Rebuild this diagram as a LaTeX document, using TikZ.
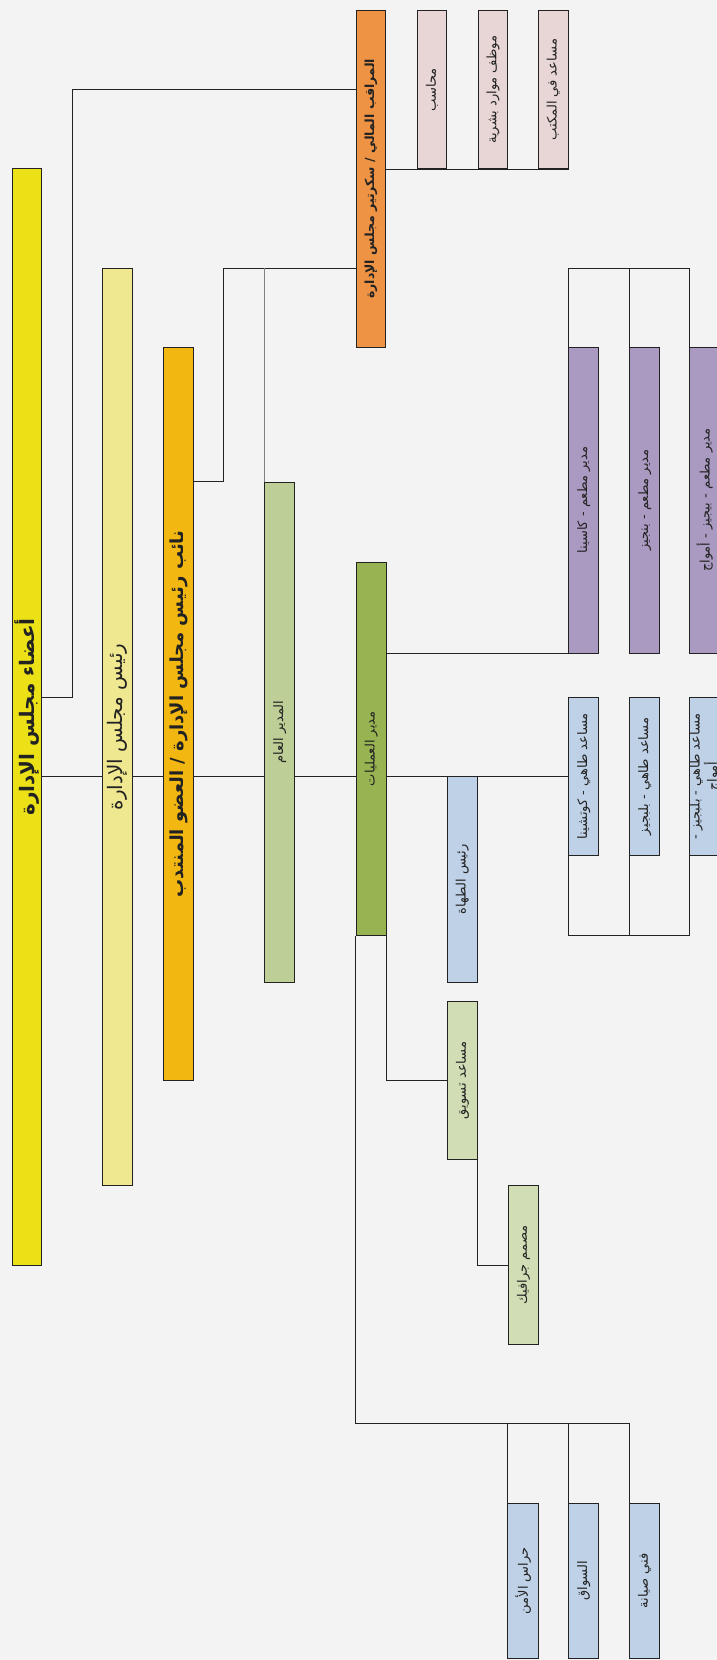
\documentclass[tikz,border=0pt]{standalone}
\usepackage{fontspec}
\newfontfamily\arabicfont[Script=Arabic]{DejaVu Sans}
\TeXXeTstate=1
\usetikzlibrary{backgrounds}
\definecolor{bgc}{HTML}{F2F3F2}
\definecolor{ink}{HTML}{222222}
\definecolor{cyel}{HTML}{ECE017}
\definecolor{clyel}{HTML}{F0E891}
\definecolor{cgold}{HTML}{F2B711}
\definecolor{cgm}{HTML}{BDCF96}
\definecolor{cops}{HTML}{98B351}
\definecolor{corange}{HTML}{EE9344}
\definecolor{cpink}{HTML}{E8D5D5}
\definecolor{cpurple}{HTML}{AA99C0}
\definecolor{cblue}{HTML}{BFD1E6}
\definecolor{cpale}{HTML}{D0DDB5}
\newcommand{\artxt}[2]{\rotatebox{90}{\fontsize{#1}{#1}\selectfont\arabicfont #2}}
\newcommand{\artxtb}[2]{\rotatebox{90}{\fontsize{#1}{#1}\selectfont\arabicfont\bfseries #2}}
\tikzset{
  orgbox/.style={draw=ink, line width=0.9pt, inner sep=0pt, anchor=north west, text=ink},
  conn/.style={draw=ink, line width=0.9pt},
  greyconn/.style={draw=gray, line width=0.8pt}
}
\begin{document}
\begin{tikzpicture}[x=1pt,y=-1pt]
\useasboundingbox (0,0) rectangle (717,1660);
\begin{scope}[on background layer]
\fill[bgc] (0,0) rectangle (717,1660);
\end{scope}
\clip (0,0) rectangle (717,1660);

% level boxes
\node[orgbox, fill=cyel, minimum width=29.3pt, minimum height=1097pt] (b1) at (12,168) {\artxtb{20}{\beginR أعضاء مجلس الإدارة\endR}};
\node[orgbox, fill=clyel, minimum width=30pt, minimum height=917.3pt] (b2) at (102.3,267.7) {\artxt{20}{\beginR رئيس مجلس الإدارة\endR}};
\node[orgbox, fill=cgold, minimum width=30pt, minimum height=733.3pt] (b3) at (163.3,346.7) {\artxtb{18}{\beginR نائب رئيس مجلس الإدارة / العضو المنتدب\endR}};
\node[orgbox, fill=cgm, minimum width=30pt, minimum height=500pt] (gm) at (264.3,481.7) {\artxt{13}{\beginR المدير العام\endR}};
\node[orgbox, fill=cops, minimum width=30pt, minimum height=373.3pt] (ops) at (355.7,561.7) {\artxt{13}{\beginR مدير العمليات\endR}};
\node[orgbox, fill=corange, minimum width=29.7pt, minimum height=336.7pt] (or) at (355.7,10) {\artxtb{12.5}{\beginR المراقب المالي / سكرتير مجلس الإدارة\endR}};

% pink
\node[orgbox, fill=cpink, minimum width=29.7pt, minimum height=158.3pt] (p1) at (416.7,10) {\artxt{13}{\beginR محاسب\endR}};
\node[orgbox, fill=cpink, minimum width=29.7pt, minimum height=158.3pt] (p2) at (477.7,10) {\artxt{13}{\beginR موظف موارد بشرية\endR}};
\node[orgbox, fill=cpink, minimum width=30.3pt, minimum height=158.3pt] (p3) at (537.7,10) {\artxt{13}{\beginR مساعد في المكتب\endR}};

% purple
\node[orgbox, fill=cpurple, minimum width=30pt, minimum height=306pt] (pu1) at (568.3,346.7) {\artxt{13}{\beginR مدير مطعم - كاسينا\endR}};
\node[orgbox, fill=cpurple, minimum width=30pt, minimum height=306pt] (pu2) at (629.3,346.7) {\artxt{13}{\beginR مدير مطعم - بنجيز\endR}};
\node[orgbox, fill=cpurple, minimum width=30pt, minimum height=306pt] (pu3) at (689.3,346.7) {\artxt{13}{\beginR مدير مطعم - بيجيز - أمواج\endR}};

% chef assistants
\node[orgbox, fill=cblue, minimum width=30pt, minimum height=158.3pt] (ca1) at (568.3,696.7) {\artxt{13}{\beginR مساعد طاهي - كوتشينا\endR}};
\node[orgbox, fill=cblue, minimum width=30pt, minimum height=158.3pt] (ca2) at (629.3,696.7) {\artxt{13}{\beginR مساعد طاهي - بلبجيز\endR}};
\node[orgbox, fill=cblue, minimum width=30pt, minimum height=158.3pt] (ca3) at (689.3,696.7) {\rotatebox{90}{\fontsize{13}{14}\selectfont\arabicfont\begin{tabular}{@{}c@{}}\beginR مساعد طاهي - بلبجيز -\endR\\ \beginR أمواج\endR\end{tabular}}};

% others
\node[orgbox, fill=cblue, minimum width=29.7pt, minimum height=205.7pt] (hc) at (447,776) {\artxt{13}{\beginR رئيس الطهاة\endR}};
\node[orgbox, fill=cpale, minimum width=30pt, minimum height=158pt] (mk) at (447,1001) {\artxt{13}{\beginR مساعد تسويق\endR}};
\node[orgbox, fill=cpale, minimum width=30pt, minimum height=159pt] (gd) at (508,1185) {\artxt{13}{\beginR مصمم جرافيك\endR}};

\node[orgbox, fill=cblue, minimum width=31pt, minimum height=154.7pt] (bt1) at (507.3,1503) {\artxt{13}{\beginR حراس الأمن\endR}};
\node[orgbox, fill=cblue, minimum width=30pt, minimum height=154.7pt] (bt2) at (568.3,1503) {\artxt{13}{\beginR السواق\endR}};
\node[orgbox, fill=cblue, minimum width=30pt, minimum height=154.7pt] (bt3) at (629,1503) {\artxt{13}{\beginR فني صيانة\endR}};

% helper coordinates
\coordinate (yA) at (0,89);
\coordinate (yB) at (0,268);
\coordinate (yMain) at (0,776);
\coordinate (yC) at (0,935);
\coordinate (yD) at (0,1423);
\coordinate (k1) at (72,697);
\coordinate (xB) at (223,0);

\begin{scope}[on background layer]
\draw[conn] (b1.east |- k1) -- (k1) |- (or.west |- yA);
\draw[conn] (b3.east |- gm.north) -| (xB |- yB) -- (or.west |- yB);
\draw[greyconn] (gm.north west) -- (gm.north west |- yB);
\draw[conn] (b1.east |- yMain) -- (b2.west |- yMain);
\draw[conn] (b2.east |- yMain) -- (b3.west |- yMain);
\draw[conn] (b3.east |- yMain) -- (gm.west |- yMain);
\draw[conn] (gm.east |- yMain) -- (ops.west |- yMain);
\draw[conn] (ops.east |- yMain) -- (ca1.west |- yMain);
\draw[conn] (or.east |- p1.south) -- (p3.south east);
\draw[conn] (pu1.north west) |- (pu3.north west |- yB) -- (pu3.north west);
\draw[conn] (pu2.north west) -- (pu2.north west |- yB);
\draw[conn] (ops.east |- pu1.south) -- (pu1.south west);
\draw[conn] (ca1.south west) |- (ca3.south west |- yC) -- (ca3.south west);
\draw[conn] (ca2.south west) -- (ca2.south west |- yC);
\draw[conn] (ops.south east) |- (mk.west);
\draw[conn] (mk.south east) |- (gd.west);
\draw[conn] (ops.south west) |- (bt3.north west |- yD) -- (bt3.north west);
\draw[conn] (bt1.north west) -- (bt1.north west |- yD);
\draw[conn] (bt2.north west) -- (bt2.north west |- yD);
\end{scope}
\end{tikzpicture}
\end{document}
